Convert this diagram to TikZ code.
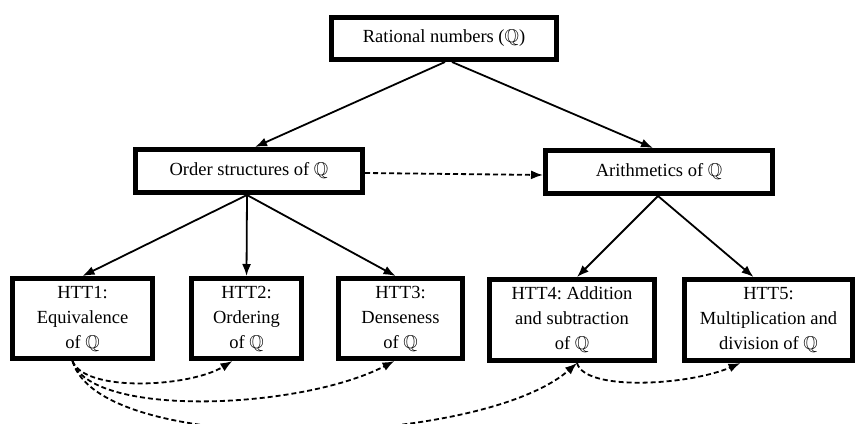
\documentclass[tikz,border=0pt]{standalone}
\usepackage{amssymb}
\usepackage{fontspec}
\setmainfont{Liberation Serif}
\usetikzlibrary{arrows.meta}
\newcommand{\QQ}{$\mathbb{Q}$}
\frenchspacing
\begin{document}
\begin{tikzpicture}[x=1pt,y=-1pt,
  box/.style={draw=black, line width=5pt, fill=white, align=center, inner sep=2pt,
    font=\fontsize{18.5}{25}\selectfont},
  arr/.style={line width=1.8pt, -{Latex[length=12pt,width=9pt]}},
  darr/.style={line width=1.8pt, dash pattern=on 5pt off 3pt, -{Latex[length=12pt,width=9pt]}},
  dline/.style={line width=1.8pt, dash pattern=on 5pt off 3pt}]
\path[use as bounding box, clip] (0,0) rectangle (858,423);
\fill[white] (0,0) rectangle (858,423);
\node[box, minimum width=225pt, minimum height=42pt] (top) at (444,38.5) {Rational numbers (\QQ)};
\node[box, minimum width=227pt, minimum height=43pt] (ord) at (249,171) {Order structures of \QQ};
\node[box, minimum width=227pt, minimum height=43pt] (ari) at (659,172) {Arithmetics of \QQ};
\node[box, minimum width=140pt, minimum height=80pt] (h1) at (82.5,318.5) {HTT1:\\Equivalence\\of \QQ};
\node[box, minimum width=110pt, minimum height=80pt] (h2) at (246.5,318.5) {HTT2:\\Ordering\\of \QQ};
\node[box, minimum width=124pt, minimum height=80pt] (h3) at (400.5,318.5) {HTT3:\\Denseness\\of \QQ};
\node[box, minimum width=165pt, minimum height=81pt] (h4) at (572,320) {HTT4: Addition\\and subtraction\\of \QQ};
\node[box, minimum width=168pt, minimum height=81pt] (h5) at (768.5,320) {HTT5:\\Multiplication and\\division of \QQ};
% solid arrows
\draw[arr] ([xshift=1pt]top.south) -- ([xshift=6pt]ord.north);
\draw[arr] ([xshift=8pt]top.south) -- ([xshift=-6pt]ari.north);
\draw[arr] ([xshift=-2pt]ord.south) -- (h1.north);
\draw[arr] ([xshift=-2pt]ord.south) -- (h2.north);
\draw[arr] ([xshift=-2pt]ord.south) -- ([xshift=-5pt]h3.north);
\draw[arr] ([xshift=-1pt]ari.south) -- ([xshift=5pt]h4.north);
\draw[arr] ([xshift=-1pt]ari.south) -- ([xshift=-15pt]h5.north);
% dashed arrow between second-level boxes
\draw[darr] ([yshift=-2pt]ord.east) -- ([yshift=-3pt]ari.west);
% dashed curves
\coordinate (s1) at ([xshift=-10pt]h1.south);
\coordinate (s4) at ([xshift=5pt]h4.south);
\draw[darr] (s1) .. controls (85,393) and (190,387) .. ([xshift=-14pt]h2.south);
\draw[darr] (s1) .. controls (90,418) and (300,410) .. ([xshift=-6pt]h3.south);
\draw[darr] (s1) .. controls (100,458) and (480,448) .. (s4);
\draw[darr] (s4) .. controls (585,392) and (690,385) .. ([xshift=-28pt]h5.south);
\end{tikzpicture}
\end{document}
